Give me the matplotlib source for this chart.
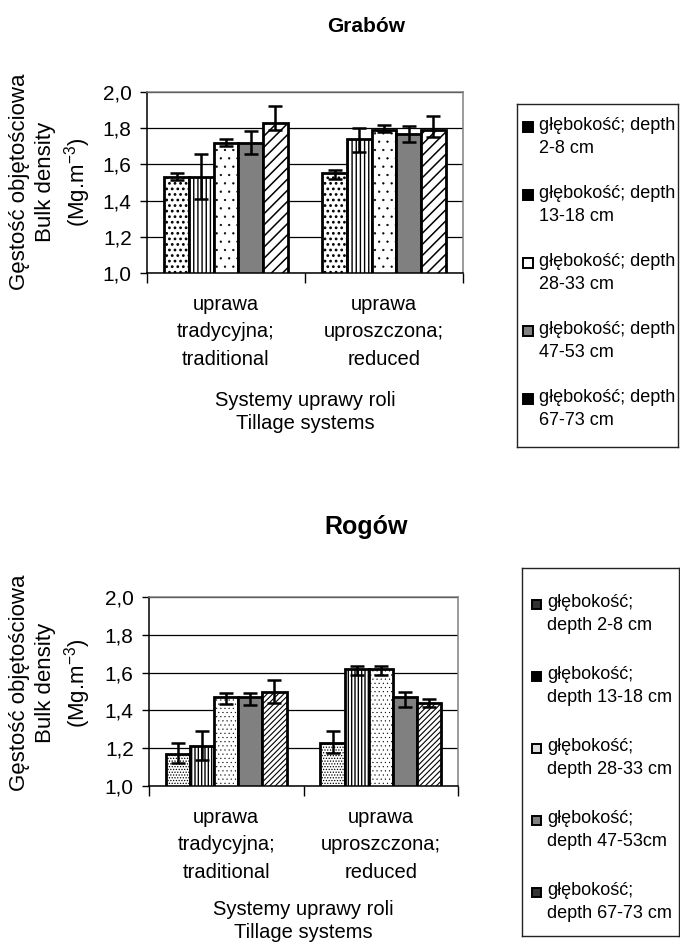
"""Bulk density of soil by tillage system and depth at Grabów and Rogów."""
import matplotlib.pyplot as plt
import numpy as np
from matplotlib.patches import Rectangle

plt.rcParams["font.family"] = ["Liberation Sans", "DejaVu Sans"]
plt.rcParams["mathtext.fontset"] = "custom"
plt.rcParams["mathtext.rm"] = "Liberation Sans"
plt.rcParams["hatch.linewidth"] = 1.0

FIG_W, FIG_H = 680, 944

# Tillage systems on the x axis
systems = ["uprawa\ntradycyjna;\ntraditional", "uprawa\nuproszczona;\nreduced"]
x_title = "Systemy uprawy roli\nTillage systems"
y_title = "Gęstość objętościowa\nBulk density\n(Mg.m$^{-3}$)"
y_ticks = [1.0, 1.2, 1.4, 1.6, 1.8, 2.0]
y_tick_labels = ["1,0", "1,2", "1,4", "1,6", "1,8", "2,0"]

# Grabów - one row per depth, columns: traditional, reduced
grabow_labels = [
    "głębokość; depth\n2-8 cm",
    "głębokość; depth\n13-18 cm",
    "głębokość; depth\n28-33 cm",
    "głębokość; depth\n47-53 cm",
    "głębokość; depth\n67-73 cm",
]
grabow_mean = [[1.53, 1.55], [1.53, 1.74], [1.72, 1.79], [1.72, 1.77], [1.83, 1.79]]
grabow_err_lo = [[0.015, 0.03], [0.12, 0.07], [0.02, 0.01], [0.06, 0.045], [0.04, 0.04]]
grabow_err_hi = [[0.02, 0.02], [0.13, 0.06], [0.02, 0.03], [0.065, 0.04], [0.09, 0.08]]

# Rogów - one row per depth, columns: traditional, reduced
rogow_labels = [
    "głębokość;\ndepth 2-8 cm",
    "głębokość;\ndepth 13-18 cm",
    "głębokość;\ndepth 28-33 cm",
    "głębokość;\ndepth 47-53cm",
    "głębokość;\ndepth 67-73 cm",
]
rogow_mean = [[1.17, 1.23], [1.21, 1.62], [1.47, 1.62], [1.47, 1.47], [1.50, 1.44]]
rogow_err_lo = [[0.05, 0.055], [0.07, 0.035], [0.035, 0.035], [0.04, 0.05], [0.06, 0.02]]
rogow_err_hi = [[0.06, 0.06], [0.08, 0.015], [0.02, 0.015], [0.02, 0.03], [0.06, 0.02]]

# (face colour, hatch, hatch line width) for each depth
grabow_style = [("white", "...", 1.2), ("white", "||||", 1.0), ("white", "..", 0.4),
                ("#808080", "", 1.0), ("white", "///", 1.1)]
rogow_style = [("white", "......", 0.6), ("white", "|||||", 1.0), ("white", "....", 0.3),
               ("#808080", "", 1.0), ("white", "//////", 0.8)]

# legend swatches are small, so the fills read darker there
grabow_swatch = [("black", "", 1.0), ("black", "", 1.0), ("white", "", 1.0),
                 ("#808080", "", 1.0), ("black", "", 1.0)]
rogow_swatch = [("#333333", "", 1.0), ("black", "", 1.0), ("#dddddd", "", 1.0),
                ("#808080", "", 1.0), ("#333333", "", 1.0)]


def px_box(x0, y0, x1, y1):
    """Pixel box (top-left origin) -> figure fraction [left, bottom, width, height]."""
    return [x0 / FIG_W, 1 - y1 / FIG_H, (x1 - x0) / FIG_W, (y1 - y0) / FIG_H]


def set_hatch_lw(patch, lw):
    setter = getattr(patch, "set_hatch_linewidth", None)
    if setter is not None:
        setter(lw)


def draw_chart(ax, means, err_lo, err_hi, styles, xlabel_pad=16):
    means = np.array(means)
    n = len(means)
    group = 0.78
    width = group / n
    centers = np.arange(len(systems)) + 0.5
    for i, (fc, hatch, hlw) in enumerate(styles):
        x = centers - group / 2 + width * (i + 0.5)
        bars = ax.bar(x, means[i], width, color=fc, edgecolor="black",
                      linewidth=2.0, hatch=hatch, zorder=2)
        for b in bars:
            set_hatch_lw(b, hlw)
        ax.errorbar(x, means[i], yerr=[err_lo[i], err_hi[i]], fmt="none",
                    ecolor="black", elinewidth=1.8, capsize=4.8, capthick=1.8,
                    zorder=3)

    ax.set_xlim(0, len(systems))
    ax.set_ylim(1.0, 2.0)
    ax.set_yticks(y_ticks)
    ax.set_yticklabels(y_tick_labels, fontsize=15)
    ax.tick_params(axis="y", length=5, width=1, pad=6)

    ax.set_xticks(np.arange(len(systems) + 1))
    ax.set_xticklabels([])
    ax.set_xticks(centers, minor=True)
    ax.set_xticklabels(systems, minor=True, fontsize=14.5, linespacing=1.55)
    ax.tick_params(axis="x", which="major", length=7, width=1)
    ax.tick_params(axis="x", which="minor", length=0, pad=16)
    ax.set_xlabel(x_title, fontsize=14.5, linespacing=1.3, labelpad=xlabel_pad)

    ax.yaxis.grid(True, color="black", linewidth=0.9)
    ax.set_axisbelow(True)
    for side in ("top", "right"):
        ax.spines[side].set_color("#808080")
    for spine in ax.spines.values():
        spine.set_linewidth(1.1)


def draw_legend(fig, box, labels, swatches, first_y, step, sw_x, sw_size, text_x):
    x0, y0, x1, y1 = box
    lax = fig.add_axes(px_box(*box))
    lax.set_xlim(0, x1 - x0)
    lax.set_ylim(y1 - y0, 0)
    lax.set_xticks([])
    lax.set_yticks([])
    for spine in lax.spines.values():
        spine.set_linewidth(1.0)
        spine.set_color("#222222")
    for i, (label, (fc, hatch, hlw)) in enumerate(zip(labels, swatches)):
        yc = first_y - y0 + step * i
        sw = Rectangle((sw_x - x0, yc - sw_size / 2), sw_size, sw_size,
                       facecolor=fc, edgecolor="black", linewidth=1.4, hatch=hatch)
        set_hatch_lw(sw, hlw)
        lax.add_patch(sw)
        lax.text(text_x - x0, yc - 10, label, fontsize=13, va="top",
                 ha="left", linespacing=1.45)


fig = plt.figure(figsize=(FIG_W / 100, FIG_H / 100), dpi=100)

# Grabów
ax1 = fig.add_axes(px_box(147, 92, 463, 273))
draw_chart(ax1, grabow_mean, grabow_err_lo, grabow_err_hi, grabow_style)
fig.text(366 / FIG_W, 1 - 26 / FIG_H, "Grabów", fontsize=15, fontweight="bold",
         ha="center", va="center")
fig.text(51 / FIG_W, 1 - 182 / FIG_H, y_title, rotation=90, fontsize=16,
         ha="center", va="center", multialignment="center", linespacing=1.3)
draw_legend(fig, (517, 104, 678, 447), grabow_labels, grabow_swatch,
            first_y=127, step=68, sw_x=523, sw_size=10, text_x=539)

# Rogów
ax2 = fig.add_axes(px_box(149, 597, 458, 786))
draw_chart(ax2, rogow_mean, rogow_err_lo, rogow_err_hi, rogow_style, xlabel_pad=13)
fig.text(366 / FIG_W, 1 - 527 / FIG_H, "Rogów", fontsize=18, fontweight="bold",
         ha="center", va="center")
fig.text(51 / FIG_W, 1 - 683 / FIG_H, y_title, rotation=90, fontsize=16,
         ha="center", va="center", multialignment="center", linespacing=1.3)
draw_legend(fig, (522, 568, 679, 936), rogow_labels, rogow_swatch,
            first_y=604, step=72, sw_x=532, sw_size=9, text_x=547)

fig.savefig("out.png", dpi=100, facecolor="white")
